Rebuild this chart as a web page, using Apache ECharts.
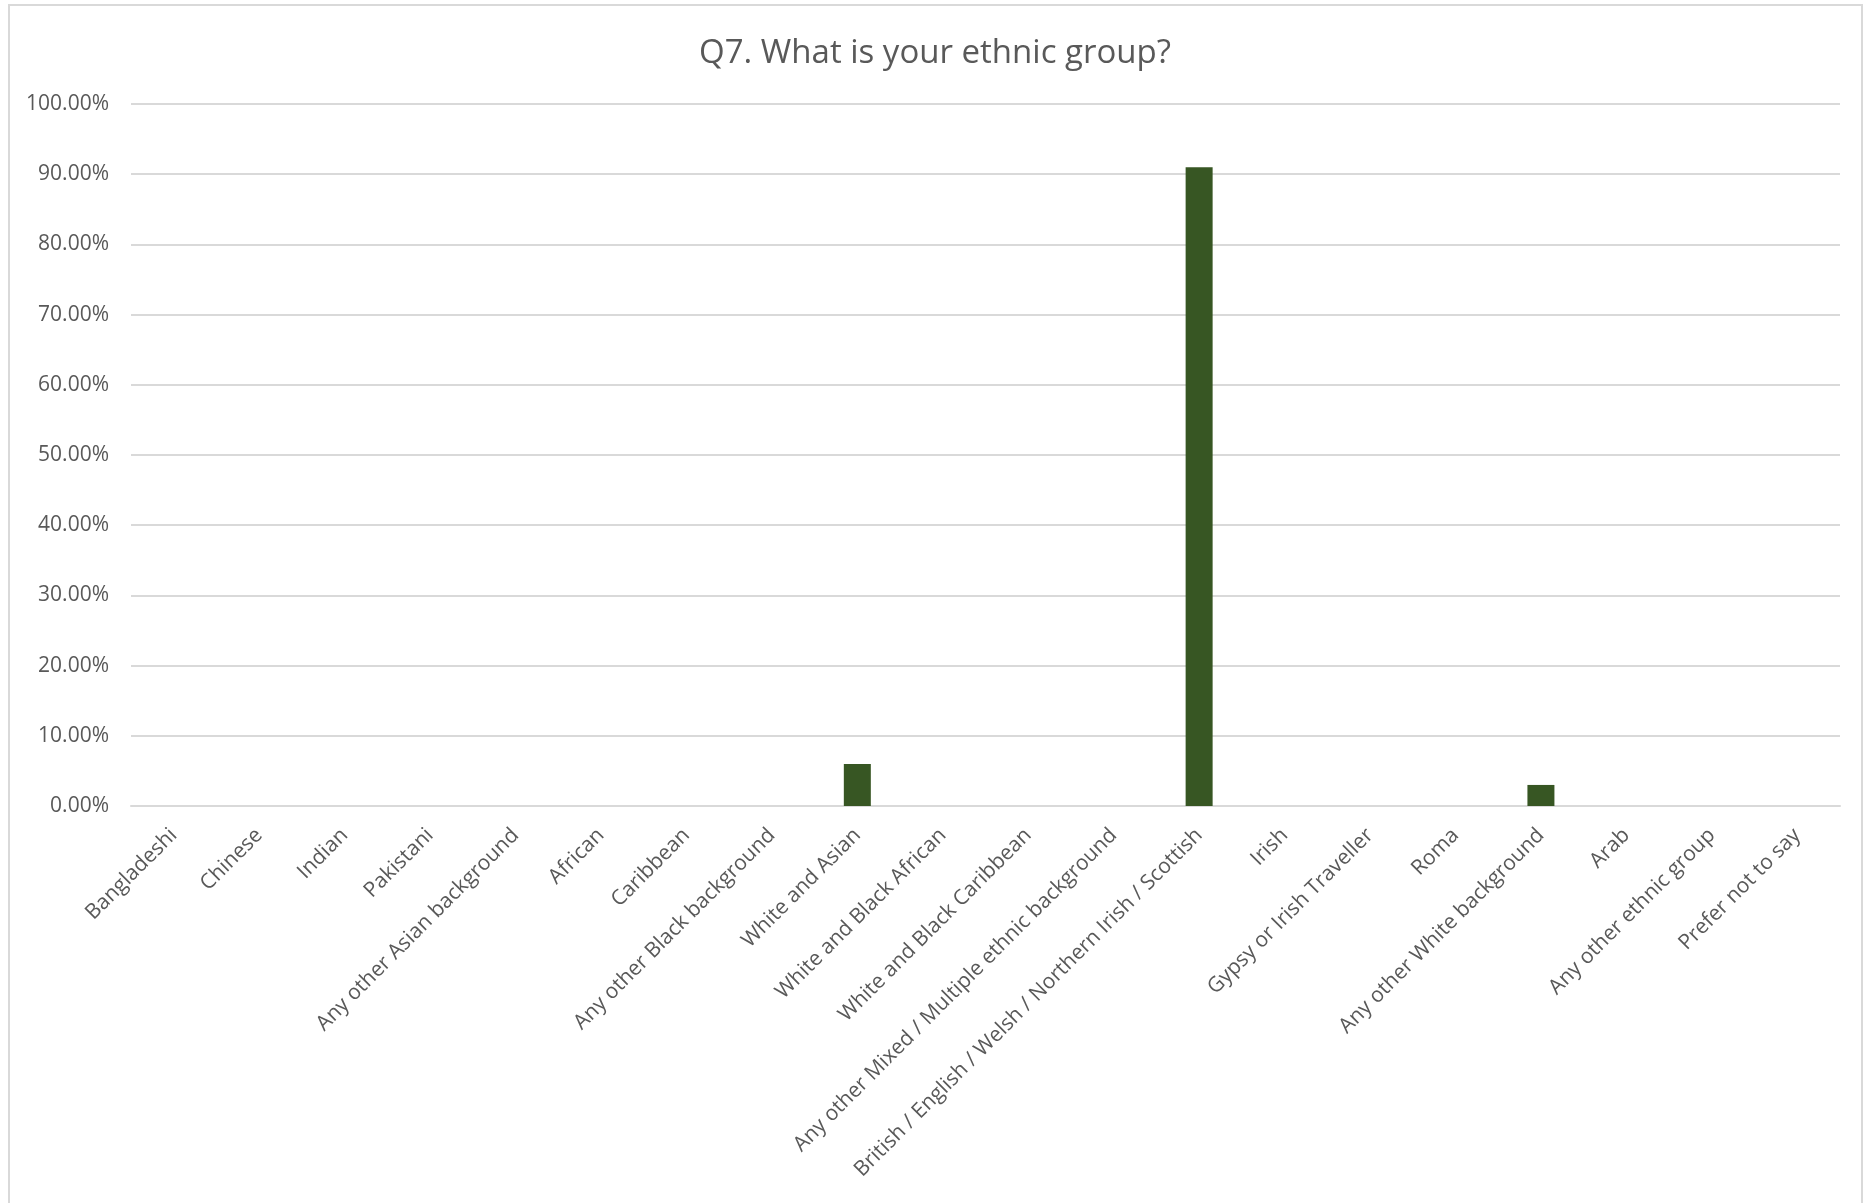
<!DOCTYPE html>
<html>
<head>
<meta charset="utf-8">
<script src="https://cdn.jsdelivr.net/npm/echarts@6/dist/echarts.min.js"></script>
<style>
html,body{margin:0;padding:0;background:#fff;}
#frame{position:absolute;left:8px;top:4px;width:1855px;height:1210px;border:2px solid #d9d9d9;box-sizing:border-box;}
#chart{position:absolute;left:0;top:0;width:1870px;height:1203px;}
</style>
</head>
<body>
<div id="frame"></div>
<div id="chart"></div>
<script>
const titleText = "Q7. What is your ethnic group?";
const categories = [
  "Bangladeshi", "Chinese", "Indian", "Pakistani", "Any other Asian background",
  "African", "Caribbean", "Any other Black background", "White and Asian",
  "White and Black African", "White and Black Caribbean",
  "Any other Mixed / Multiple ethnic background",
  "British / English / Welsh / Northern Irish / Scottish", "Irish",
  "Gypsy or Irish Traveller", "Roma", "Any other White background", "Arab",
  "Any other ethnic group", "Prefer not to say"
];
const values = [0, 0, 0, 0, 0, 0, 0, 0, 0.06, 0, 0, 0, 0.91, 0, 0, 0, 0.03, 0, 0, 0];
const yMin = 0, yMax = 1, yStep = 0.1;

const chart = echarts.init(document.getElementById('chart'), null, {renderer: 'canvas'});
chart.setOption({
  backgroundColor: 'transparent',
  animation: false,
  title: {
    text: titleText,
    left: 'center',
    top: 32,
    textStyle: {fontFamily: 'Open Sans', fontSize: 33, fontWeight: 'normal', color: '#595959'}
  },
  grid: {left: 131, right: 30, top: 104, bottom: 397, containLabel: false},
  xAxis: {
    type: 'category',
    data: categories,
    axisLine: {show: true, lineStyle: {color: '#d9d9d9', width: 2}},
    axisTick: {show: false},
    axisLabel: {
      interval: 0,
      rotate: 45,
      margin: 26,
      fontFamily: 'Open Sans',
      fontSize: 21,
      color: '#595959'
    }
  },
  yAxis: {
    type: 'value',
    min: yMin, max: yMax, interval: yStep,
    axisLine: {show: false},
    axisTick: {show: false},
    splitLine: {lineStyle: {color: '#d9d9d9', width: 2}},
    axisLabel: {
      margin: 22,
      fontFamily: 'Open Sans',
      fontSize: 21,
      color: '#595959',
      formatter: v => (v * 100).toFixed(2) + '%'
    }
  },
  series: [{
    type: 'bar',
    data: values,
    barWidth: 27,
    itemStyle: {color: '#375623'}
  }]
});
</script>
</body>
</html>
